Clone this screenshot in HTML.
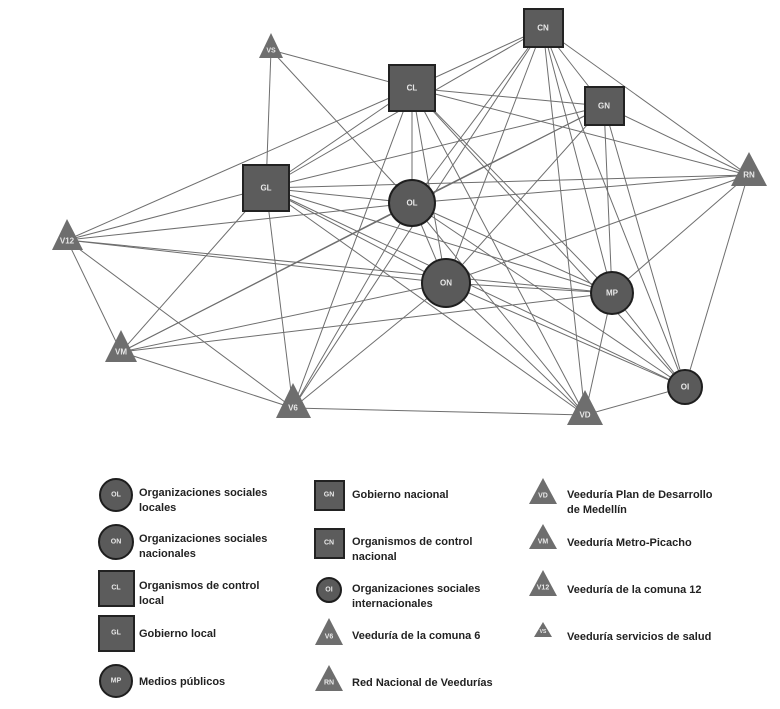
<!DOCTYPE html>
<html><head><meta charset="utf-8"><style>
html,body{margin:0;padding:0;background:#fff;}
svg{display:block}
.lab{font-family:"Liberation Sans",sans-serif;font-weight:bold;fill:#e8e8e8;text-anchor:middle;dominant-baseline:central}
.lt{font-family:"Liberation Sans",sans-serif;font-size:11px;font-weight:bold;fill:#222}
</style></head><body>
<svg width="780" height="709" viewBox="0 0 780 709" xmlns="http://www.w3.org/2000/svg">
<g stroke="#6e6e6e" stroke-width="1" fill="none">
<!-- VS -->
<line x1="271" y1="50" x2="412" y2="88"/><line x1="271" y1="50" x2="266" y2="188"/><line x1="271" y1="50" x2="412" y2="203"/>
<!-- CL -->
<line x1="412" y1="88" x2="67" y2="240"/><line x1="412" y1="88" x2="266" y2="188"/><line x1="412" y1="88" x2="293" y2="408"/>
<line x1="412" y1="88" x2="412" y2="203"/><line x1="412" y1="88" x2="446" y2="283"/><line x1="412" y1="88" x2="612" y2="293"/>
<line x1="412" y1="88" x2="585" y2="415"/><line x1="412" y1="88" x2="685" y2="387"/><line x1="412" y1="88" x2="543" y2="28"/>
<line x1="412" y1="88" x2="604" y2="106"/><line x1="412" y1="88" x2="748" y2="175"/>
<!-- GL -->
<line x1="266" y1="188" x2="67" y2="240"/><line x1="266" y1="188" x2="121" y2="352"/><line x1="266" y1="188" x2="293" y2="408"/>
<line x1="266" y1="188" x2="412" y2="203"/><line x1="266" y1="188" x2="446" y2="283"/><line x1="266" y1="188" x2="612" y2="293"/>
<line x1="266" y1="188" x2="585" y2="415"/><line x1="266" y1="188" x2="685" y2="387"/><line x1="266" y1="188" x2="543" y2="28"/>
<line x1="266" y1="188" x2="604" y2="106"/><line x1="266" y1="188" x2="748" y2="175"/>
<!-- V12 -->
<line x1="67" y1="240" x2="412" y2="203"/><line x1="67" y1="240" x2="446" y2="283"/><line x1="67" y1="240" x2="612" y2="293"/>
<line x1="67" y1="240" x2="121" y2="352"/><line x1="67" y1="240" x2="293" y2="408"/>
<!-- VM -->
<line x1="121" y1="352" x2="412" y2="203"/><line x1="121" y1="352" x2="446" y2="283"/><line x1="121" y1="352" x2="612" y2="293"/>
<line x1="121" y1="352" x2="293" y2="408"/><line x1="121" y1="352" x2="604" y2="106"/>
<!-- V6 -->
<line x1="293" y1="408" x2="412" y2="203"/><line x1="293" y1="408" x2="446" y2="283"/><line x1="293" y1="408" x2="585" y2="415"/>
<line x1="293" y1="408" x2="543" y2="28"/>
<!-- OL -->
<line x1="412" y1="203" x2="543" y2="28"/><line x1="412" y1="203" x2="604" y2="106"/><line x1="412" y1="203" x2="748" y2="175"/>
<line x1="412" y1="203" x2="446" y2="283"/><line x1="412" y1="203" x2="612" y2="293"/><line x1="412" y1="203" x2="585" y2="415"/>
<line x1="412" y1="203" x2="685" y2="387"/>
<!-- ON -->
<line x1="446" y1="283" x2="543" y2="28"/><line x1="446" y1="283" x2="604" y2="106"/><line x1="446" y1="283" x2="748" y2="175"/>
<line x1="446" y1="283" x2="612" y2="293"/><line x1="446" y1="283" x2="585" y2="415"/><line x1="446" y1="283" x2="685" y2="387"/>
<!-- CN -->
<line x1="543" y1="28" x2="604" y2="106"/><line x1="543" y1="28" x2="748" y2="175"/><line x1="543" y1="28" x2="612" y2="293"/>
<line x1="543" y1="28" x2="685" y2="387"/><line x1="543" y1="28" x2="585" y2="415"/>
<!-- GN -->
<line x1="604" y1="106" x2="748" y2="175"/><line x1="604" y1="106" x2="612" y2="293"/><line x1="604" y1="106" x2="685" y2="387"/>
<!-- MP RN VD OI -->
<line x1="612" y1="293" x2="748" y2="175"/><line x1="612" y1="293" x2="585" y2="415"/><line x1="612" y1="293" x2="685" y2="387"/>
<line x1="748" y1="175" x2="685" y2="387"/><line x1="585" y1="415" x2="685" y2="387"/>
</g>
<!-- squares -->
<g fill="#5c5c5c" stroke="#222" stroke-width="2">
<rect x="389" y="65" width="46" height="46"/>
<rect x="524" y="9" width="39" height="38"/>
<rect x="585" y="87" width="39" height="38"/>
<rect x="243" y="165" width="46" height="46"/>
</g>
<g fill="#5a5a5a" stroke="#1e1e1e" stroke-width="2">
<circle cx="412" cy="203" r="23"/>
<circle cx="446" cy="283" r="24"/>
<circle cx="612" cy="293" r="21"/>
<circle cx="685" cy="387" r="17"/>
</g>
<g fill="#6e6e6e">
<polygon points="271,33 259,58 283,58"/>
<polygon points="749,152 731,186 767,186"/>
<polygon points="67,219 52,250 83,250"/>
<polygon points="121,330 105,362 137,362"/>
<polygon points="293,383 276,418 311,418"/>
<polygon points="585,390 567,425 603,425"/>
</g>
<g class="lab" font-size="8">
<text x="412" y="88">CL</text><text x="543" y="28">CN</text><text x="604" y="106">GN</text><text x="266" y="188">GL</text>
<text x="412" y="203">OL</text><text x="446" y="283">ON</text><text x="612" y="293">MP</text><text x="685" y="387">OI</text>
<text x="271" y="51" font-size="7">VS</text><text x="749" y="175">RN</text><text x="67" y="241">V12</text>
<text x="121" y="352">VM</text><text x="293" y="408">V6</text><text x="585" y="415">VD</text>
</g>
<!-- legend icons -->
<g fill="#5a5a5a" stroke="#1e1e1e" stroke-width="2">
<circle cx="116" cy="495" r="16"/><circle cx="116" cy="542" r="17"/><circle cx="116" cy="681" r="16"/><circle cx="329" cy="590" r="12"/>
</g>
<g fill="#5c5c5c" stroke="#222" stroke-width="2">
<rect x="99" y="571" width="35" height="35"/><rect x="99" y="616" width="35" height="35"/>
<rect x="315" y="481" width="29" height="29"/><rect x="315" y="529" width="29" height="29"/>
</g>
<g fill="#6e6e6e">
<polygon points="329,618 315,645 343,645"/><polygon points="329,665 315,691 343,691"/>
<polygon points="543,478 529,504 557,504"/><polygon points="543,524 529,549 557,549"/>
<polygon points="543,570 529,596 557,596"/><polygon points="543,622 534,637 552,637"/>
</g>
<g class="lab" font-size="7">
<text x="116" y="495">OL</text><text x="116" y="542">ON</text><text x="116" y="588">CL</text><text x="116" y="633">GL</text><text x="116" y="681">MP</text>
<text x="329" y="495">GN</text><text x="329" y="543">CN</text><text x="329" y="590">OI</text><text x="329" y="637">V6</text><text x="329" y="683">RN</text>
<text x="543" y="496">VD</text><text x="543" y="542">VM</text><text x="543" y="588">V12</text><text x="543" y="632" font-size="5">VS</text>
</g>
<g class="lt">
<text x="139" y="496">Organizaciones sociales</text><text x="139" y="511">locales</text>
<text x="139" y="542">Organizaciones sociales</text><text x="139" y="557">nacionales</text>
<text x="139" y="589">Organismos de control</text><text x="139" y="604">local</text>
<text x="139" y="637">Gobierno local</text>
<text x="139" y="685">Medios públicos</text>
<text x="352" y="498">Gobierno nacional</text>
<text x="352" y="545">Organismos de control</text><text x="352" y="560">nacional</text>
<text x="352" y="592">Organizaciones sociales</text><text x="352" y="607">internacionales</text>
<text x="352" y="639">Veeduría de la comuna 6</text>
<text x="352" y="686">Red Nacional de Veedurías</text>
<text x="567" y="498">Veeduría Plan de Desarrollo</text><text x="567" y="513">de Medellín</text>
<text x="567" y="546">Veeduría Metro-Picacho</text>
<text x="567" y="593">Veeduría de la comuna 12</text>
<text x="567" y="640">Veeduría servicios de salud</text>
</g>
</svg>
</body></html>
